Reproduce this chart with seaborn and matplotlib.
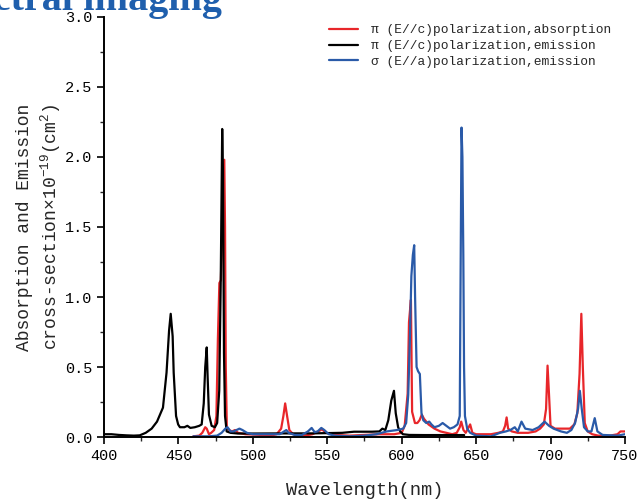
import numpy as np
import pandas as pd
import matplotlib
matplotlib.use("Agg")
import matplotlib.pyplot as plt
import seaborn as sns
from matplotlib.ticker import MultipleLocator

# pi (E//c) emission - black
em_pi_wl = [400, 405, 410, 415, 420, 424, 428, 432, 435.6, 439.6, 442, 443.7, 444.8, 446.1,
            446.8, 448.4, 449.8, 451, 454, 456, 458, 461, 464, 465.6, 467, 468, 469, 469.6,
            470.5, 472.3, 474.5, 476, 477.4, 478.4, 479.4, 479.9, 480.6, 481.3, 482.4, 485,
            490, 500, 520, 540, 560, 568, 580, 585, 587, 589, 591, 593, 594.8, 596, 597.6,
            599, 600.8, 605, 615, 625, 635, 642]
em_pi = [0.02, 0.02, 0.015, 0.012, 0.01, 0.012, 0.03, 0.06, 0.11, 0.21, 0.46, 0.76, 0.88, 0.72,
         0.46, 0.15, 0.09, 0.07, 0.07, 0.08, 0.065, 0.07, 0.08, 0.09, 0.24, 0.5, 0.64, 0.43,
         0.16, 0.08, 0.07, 0.1, 0.33, 1.1, 2.2, 1.9, 0.6, 0.15, 0.04, 0.03,
         0.025, 0.025, 0.026, 0.026, 0.03, 0.038, 0.038, 0.04, 0.06, 0.05, 0.12, 0.26, 0.33, 0.17, 0.07,
         0.04, 0.02, 0.015, 0.014, 0.014, 0.014, 0.014]

# pi (E//c) absorption - red
abs_pi_wl = [460, 464, 466, 468, 469, 470.5, 472, 474, 475.5, 476.5, 477.5, 478.5, 479.5, 480.8,
             481.3, 481.8, 482.5, 484, 486, 488, 490, 495, 505, 512, 516, 519, 520.5, 521.7,
             523, 524.5, 527, 535, 540, 544, 546.5, 549, 555, 565, 575, 585, 595, 600, 602,
             604, 604.9, 606.2, 607, 608.9, 610.5, 612, 613.5, 615, 618, 622, 626, 630, 634,
             637, 639, 640, 641.5, 643, 644.5, 646, 647.5, 650, 660, 665, 668, 669.5, 670.5,
             671.5, 674, 678, 685, 690, 693, 695.5, 697, 698, 699, 700, 703, 708, 713, 716,
             718, 719.5, 720.7, 721.7, 723, 725, 728, 732, 740, 745, 747, 750]
abs_pi = [0.005, 0.01, 0.03, 0.07, 0.06, 0.02, 0.03, 0.05, 0.15, 0.7, 1.1, 1.12, 1.5, 1.98,
          1.5, 0.5, 0.07, 0.05, 0.04, 0.05, 0.03, 0.02, 0.015, 0.01, 0.02, 0.06, 0.15, 0.24,
          0.15, 0.05, 0.02, 0.01, 0.02, 0.04, 0.055, 0.03, 0.015, 0.01, 0.015, 0.02, 0.02, 0.03, 0.08,
          0.31, 0.82, 0.98, 0.18, 0.1, 0.1, 0.12, 0.16, 0.13, 0.09, 0.06, 0.04, 0.03, 0.02,
          0.03, 0.07, 0.11, 0.05, 0.03, 0.06, 0.09, 0.03, 0.02, 0.02, 0.03, 0.04, 0.08, 0.14,
          0.06, 0.04, 0.03, 0.03, 0.04, 0.06, 0.09, 0.2, 0.51, 0.3, 0.08, 0.06, 0.06, 0.06, 0.09,
          0.17, 0.45, 0.88, 0.5, 0.1, 0.04, 0.02, 0.01, 0.01, 0.02, 0.04, 0.04]

# sigma (E//a) emission - blue
em_sig_wl = [460, 470, 476, 479, 481.5, 483, 485, 487, 489, 491, 493, 496, 500, 510, 518, 521,
             522.5, 524, 528, 533, 537, 539.5, 541.5, 543.5, 546, 548, 551, 555, 565, 575, 583,
             590, 597, 601, 603, 604.4, 605.5, 606.5, 607.5, 608.4, 609, 610, 611, 612.2, 613.3,
             614.5, 616.5, 618.5, 620, 622, 625, 627.5, 630, 632.5, 635, 637.5, 639, 639.6,
             640.2, 640.8, 641.4, 641.9, 642.5, 644, 646, 650, 660, 666, 670, 673, 676, 678,
             680.5, 683, 688, 692, 696, 699, 702, 707, 711, 714, 716.5, 718.5, 719.7, 721,
             722.5, 725, 727.5, 729.7, 731.5, 735, 745, 750]
em_sig = [0.005, 0.005, 0.01, 0.03, 0.06, 0.07, 0.04, 0.04, 0.05, 0.06, 0.05, 0.03, 0.02, 0.02,
          0.02, 0.04, 0.05, 0.03, 0.015, 0.015, 0.04, 0.065, 0.035, 0.04, 0.065, 0.05, 0.02, 0.01,
          0.005, 0.01, 0.02, 0.04, 0.05, 0.06, 0.1, 0.3, 0.7, 1.15, 1.3, 1.37, 1.0, 0.5, 0.47,
          0.45, 0.17, 0.12, 0.1, 0.11, 0.09, 0.07, 0.08, 0.1, 0.08, 0.06, 0.07, 0.09, 0.15, 1.2,
          2.21, 2.0, 1.3, 0.5, 0.15, 0.06, 0.03, 0.01, 0.005, 0.03, 0.04, 0.05, 0.07, 0.04,
          0.11, 0.06, 0.05, 0.07, 0.11, 0.08, 0.06, 0.04, 0.03, 0.05, 0.1, 0.2, 0.33, 0.2,
          0.07, 0.04, 0.04, 0.135, 0.04, 0.015, 0.01, 0.02]

labels = ["π (E//c)polarization,absorption",
          "π (E//c)polarization,emission",
          "σ (E//a)polarization,emission"]

sns.set_style("ticks")
plt.rcParams['font.family'] = ['Liberation Mono', 'DejaVu Sans']
plt.rcParams['mathtext.fontset'] = 'custom'
plt.rcParams['mathtext.rm'] = 'Liberation Mono'

fig = plt.figure(figsize=(6.39, 4.99), dpi=100)
ax = fig.add_axes([0.1628, 0.1242, 0.8152, 0.8418])

sns.lineplot(x=abs_pi_wl, y=abs_pi, color='#e8262a', lw=1.6, label=labels[0], ax=ax)
sns.lineplot(x=em_pi_wl, y=em_pi, color='black', lw=1.6, label=labels[1], ax=ax)
sns.lineplot(x=em_sig_wl, y=em_sig, color='#2a5aa8', lw=1.6, label=labels[2], ax=ax)

ax.set_xlim(400, 750)
ax.set_ylim(0, 3.0)
ax.xaxis.set_major_locator(MultipleLocator(50))
ax.xaxis.set_minor_locator(MultipleLocator(25))
ax.yaxis.set_major_locator(MultipleLocator(0.5))
ax.yaxis.set_minor_locator(MultipleLocator(0.25))
ax.yaxis.set_major_formatter(matplotlib.ticker.FormatStrFormatter('%.1f'))
ax.tick_params(which='major', direction='out', length=5, width=1.2, labelsize=11, colors='black')
ax.tick_params(which='minor', direction='out', length=3, width=1.0)
for s in ['top', 'right']:
    ax.spines[s].set_visible(False)
for s in ['left', 'bottom']:
    ax.spines[s].set_linewidth(1.4)
    ax.spines[s].set_color('black')

ax.set_xlabel("Wavelength(nm)", fontsize=13.5, labelpad=14)
ax.set_ylabel("Absorption and Emission\ncross-section×10$^{-19}$(cm$^{2}$)", fontsize=13,
              labelpad=1, linespacing=1.3)

leg = ax.legend(loc='upper right', bbox_to_anchor=(0.975, 0.975), bbox_transform=fig.transFigure,
                frameon=False, fontsize=9.3, handlelength=2.3, handletextpad=1.0,
                labelspacing=0.3)

fig.text(222 / 639, 1 - 10 / 499, "Spectral imaging", ha='right', va='baseline',
         fontsize=29, fontweight='bold', family='Liberation Serif', color='#1f5fad')

fig.savefig("out.png", dpi=100)
